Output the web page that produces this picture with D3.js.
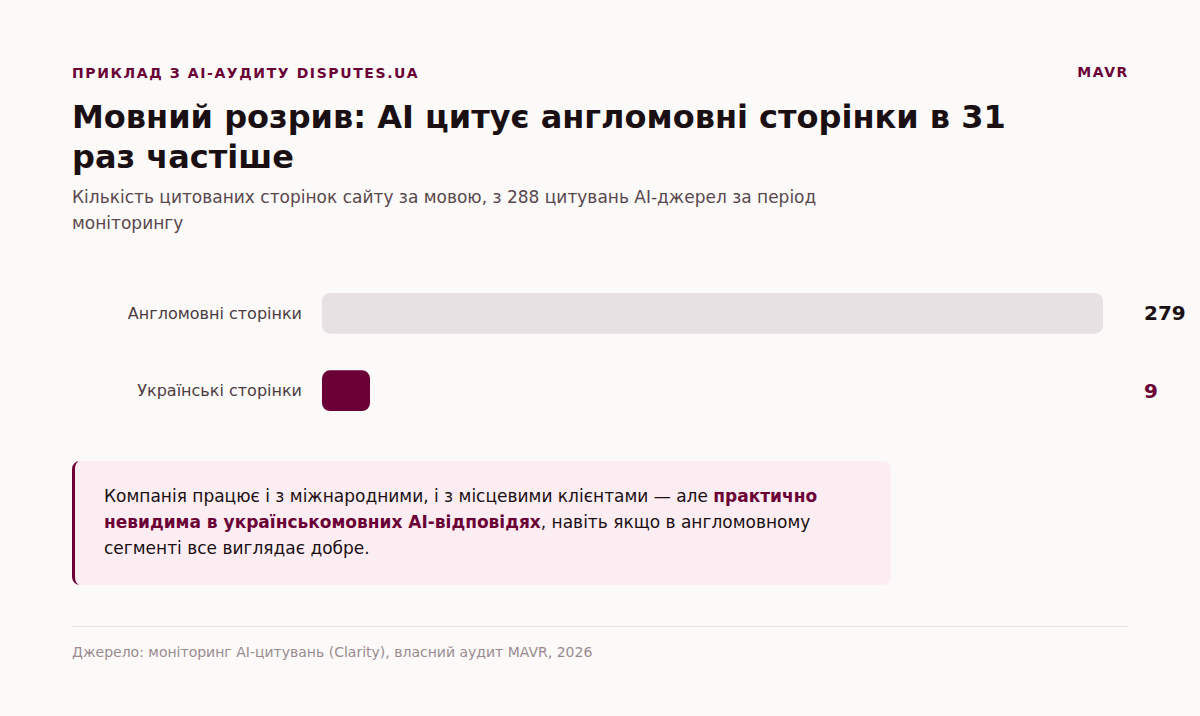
<!DOCTYPE html>
<html lang="uk">
<head>
<meta charset="utf-8">
<script src="https://cdn.jsdelivr.net/npm/d3@7"></script>
<style>
  html, body { margin: 0; padding: 0; background: #fbfaf9; }
  svg { display: block; font-family: "DejaVu Sans", sans-serif; }
</style>
</head>
<body>
<svg id="chart" width="1200" height="716"></svg>
<script>
"use strict";

// дані
const categories = ["Англомовні сторінки", "Українські сторінки"];
const values = [279, 9];
const barColors = ["#e7e1e4", "#6b0036"];
const valueColors = ["#1a0f12", "#6b0036"];

const kicker = "ПРИКЛАД З AI-АУДИТУ DISPUTES.UA";
const brand = "MAVR";
const titleLines = ["Мовний розрив: AI цитує англомовні сторінки в 31", "раз частіше"];
const subtitleLines = ["Кількість цитованих сторінок сайту за мовою, з 288 цитувань AI-джерел за період", "моніторингу"];
const noteLines = [
  [["Компанія працює і з міжнародними, і з місцевими клієнтами — але ", false], ["практично", true]],
  [["невидима в українськомовних AI-відповідях", true], [", навіть якщо в англомовному", false]],
  [["сегменті все виглядає добре.", false]]
];
const source = "Джерело: моніторинг AI-цитувань (Clarity), власний аудит MAVR, 2026";

const svg = d3.select("#chart");
const accent = "#6b0036";

// шапка
svg.append("text")
  .attr("x", 72).attr("y", 78)
  .attr("font-size", 14).attr("font-weight", "bold")
  .attr("letter-spacing", 1.6)
  .attr("fill", accent)
  .text(kicker);

svg.append("text")
  .attr("x", 1129).attr("y", 77)
  .attr("text-anchor", "end")
  .attr("font-size", 14).attr("font-weight", "bold")
  .attr("letter-spacing", 1.6)
  .attr("fill", accent)
  .text(brand);

svg.append("g").selectAll("text")
  .data(titleLines)
  .join("text")
  .attr("x", 72)
  .attr("y", (d, i) => 128 + i * 40)
  .attr("font-size", 32).attr("font-weight", "bold")
  .attr("fill", "#1a0f12")
  .text(d => d);

svg.append("g").selectAll("text")
  .data(subtitleLines)
  .join("text")
  .attr("x", 72)
  .attr("y", (d, i) => 203 + i * 26)
  .attr("font-size", 17)
  .attr("fill", "#5a474e")
  .text(d => d);

// стовпці
const x = d3.scaleLinear().domain([0, d3.max(values)]).range([0, 781]);
const y = d3.scaleBand().domain(categories).range([276, 428]).paddingInner(0.9 / 1.9).paddingOuter(0.22);

const rows = svg.append("g").selectAll("g")
  .data(categories)
  .join("g")
  .attr("transform", d => `translate(0,${y(d)})`);

rows.append("rect")
  .attr("x", 322)
  .attr("width", (d, i) => Math.max(48, x(values[i])))
  .attr("height", y.bandwidth())
  .attr("rx", 8)
  .attr("fill", (d, i) => barColors[i]);

rows.append("text")
  .attr("x", 302)
  .attr("y", y.bandwidth() / 2)
  .attr("dy", "0.35em")
  .attr("text-anchor", "end")
  .attr("font-size", 16)
  .attr("fill", "#4d3b42")
  .text(d => d);

rows.append("text")
  .attr("x", 1144)
  .attr("y", y.bandwidth() / 2)
  .attr("dy", "0.35em")
  .attr("font-size", 20).attr("font-weight", "bold")
  .attr("fill", (d, i) => valueColors[i])
  .text((d, i) => values[i]);

// висновок
const note = svg.append("g");
note.append("rect")
  .attr("x", 72).attr("y", 461)
  .attr("width", 819).attr("height", 124)
  .attr("rx", 8)
  .attr("fill", "#fcedf2");
note.append("path")
  .attr("d", "M80,461 A8,8 0 0 0 72,469 L72,577 A8,8 0 0 0 80,585 L80,585 A5,8 0 0 1 75,577 L75,469 A5,8 0 0 1 80,461 Z")
  .attr("fill", accent);

note.selectAll("text")
  .data(noteLines)
  .join("text")
  .attr("x", 104)
  .attr("y", (d, i) => 502 + i * 26)
  .attr("font-size", 17)
  .attr("fill", "#1a0f12")
  .selectAll("tspan")
  .data(d => d)
  .join("tspan")
  .attr("font-weight", d => d[1] ? "bold" : null)
  .attr("fill", d => d[1] ? accent : null)
  .text(d => d[0]);

// підвал
svg.append("line")
  .attr("x1", 72).attr("x2", 1128)
  .attr("y1", 626.5).attr("y2", 626.5)
  .attr("stroke", "#e8e3e4");

svg.append("text")
  .attr("x", 72).attr("y", 657)
  .attr("font-size", 14)
  .attr("fill", "#9a8a90")
  .text(source);
</script>
</body>
</html>
